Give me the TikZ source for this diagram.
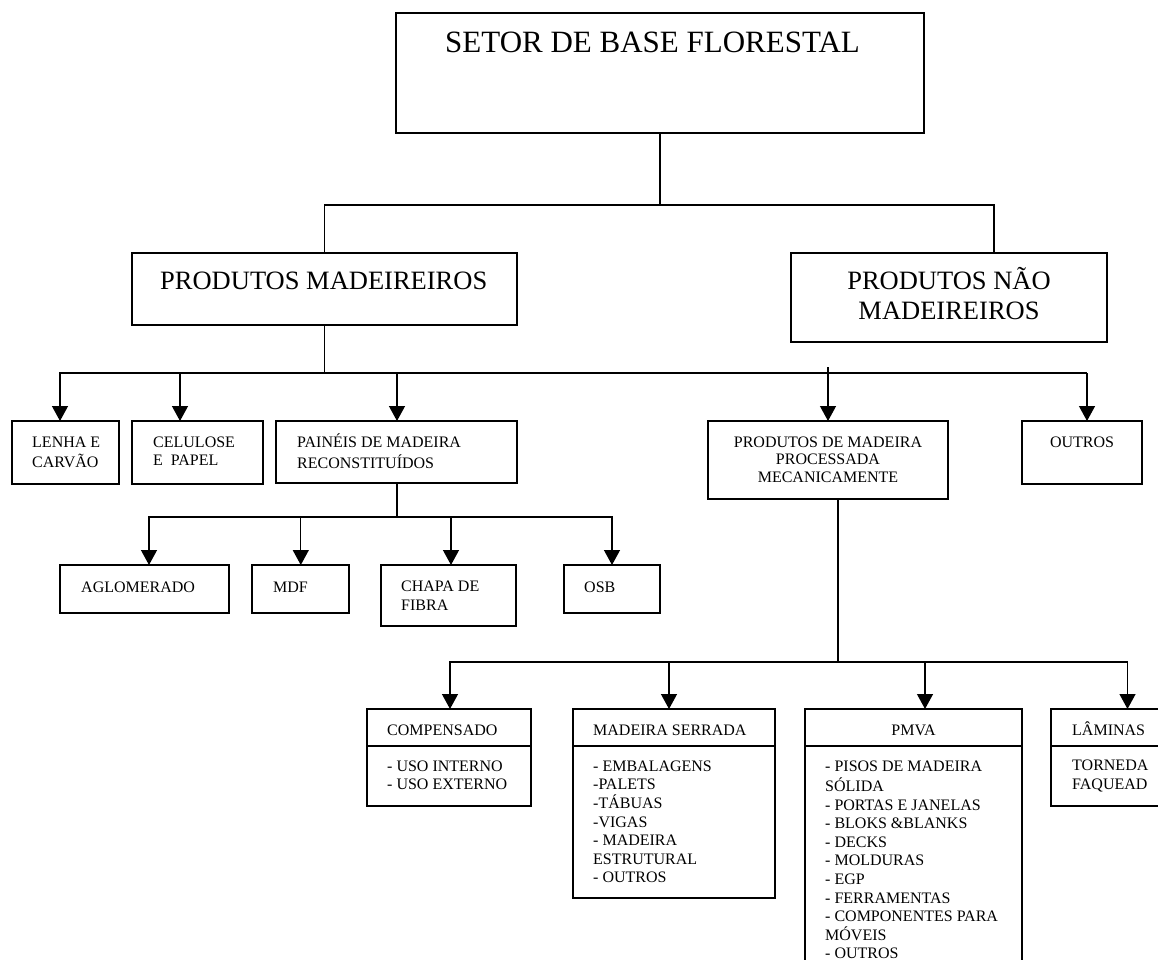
\documentclass[tikz,border=0pt]{standalone}
\usepackage{fontspec}
\setmainfont{Liberation Serif}
\usetikzlibrary{arrows.meta,calc}
\tikzset{
  box/.style={draw, line width=1.3pt, inner sep=0pt, outer sep=0pt, anchor=north west},
  ln/.style={line width=1.3pt},
  arr/.style={line width=1.3pt, -{Triangle[width=16pt,length=15pt]}},
  small/.style={inner sep=0pt, font=\fontsize{16}{18.6}\selectfont},
  txt/.style={small, anchor=north west, align=left},
  mid/.style={inner sep=0pt, font=\fontsize{26.5}{30}\selectfont},
  big/.style={inner sep=0pt, font=\fontsize{31}{36}\selectfont},
}
\begin{document}
\begin{tikzpicture}[x=1pt,y=-1pt]
\useasboundingbox (0,0) rectangle (1158,960);
\clip (0,0) rectangle (1158,960);
% boxes
\node[box, minimum width=528pt, minimum height=120pt] (T) at (396,13) {};
\node[box, minimum width=385pt, minimum height=72pt] (PM) at (132,253) {};
\node[box, minimum width=316pt, minimum height=89pt] (PNM) at (791,253) {};
\node[box, minimum width=107pt, minimum height=63pt] (LEN) at (12,421) {};
\node[box, minimum width=131pt, minimum height=63pt] (CEL) at (132,421) {};
\node[box, minimum width=241pt, minimum height=62pt] (PAI) at (276,421) {};
\node[box, minimum width=240pt, minimum height=78pt] (PMM) at (708,421) {};
\node[box, minimum width=120pt, minimum height=63pt] (OUT) at (1022,421) {};
\node[box, minimum width=169pt, minimum height=48pt] (AGL) at (60,565) {};
\node[box, minimum width=97pt, minimum height=48pt] (MDF) at (252,565) {};
\node[box, minimum width=135pt, minimum height=61pt] (CHA) at (381,565) {};
\node[box, minimum width=96pt, minimum height=48pt] (OSB) at (564,565) {};
\node[box, minimum width=164pt, minimum height=97pt] (COM) at (367,709) {};
\node[box, minimum width=202pt, minimum height=189pt] (MSE) at (573,709) {};
\node[box, minimum width=217pt, minimum height=290pt] (PMV) at (805,709) {};
\node[box, minimum width=130pt, minimum height=97pt] (LAM) at (1051,709) {};
% dividers
\foreach \b in {COM,MSE,PMV,LAM}
  \draw[ln] ($(\b.north west)+(0,37)$) -- ($(\b.north east)+(0,37)$);
% texts
\node[big, anchor=base west] (tT) at (445,53) {SETOR DE BASE FLORESTAL};
\node[mid, anchor=base west] (tPM) at (160,289) {PRODUTOS MADEIREIROS};
\node[mid, anchor=north, align=center] (tPNM) at (949,267) {\strut PRODUTOS NÃO\\MADEIREIROS};
\node[txt] (tLEN) at (32,434) {\strut LENHA E\\CARVÃO};
\node[txt] (tCEL) at (153,434) {\strut CELULOSE\\E\ \ PAPEL};
\node[txt] (tPAI) at (297,434) {\strut PAINÉIS DE MADEIRA\\RECONSTITUÍDOS};
\node[small, anchor=north, align=center, font=\fontsize{16}{17.5}\selectfont] (tPMM) at (828,434.75) {\strut PRODUTOS DE MADEIRA\\PROCESSADA\\MECANICAMENTE};
\node[small, anchor=base] (tOUT) at (1082,447) {OUTROS};
\node[small, anchor=base west] (tAGL) at (81,592) {AGLOMERADO};
\node[small, anchor=base west] (tMDF) at (273,592) {MDF};
\node[txt, font=\fontsize{16}{19}\selectfont] (tCHA) at (401,577.7) {\strut CHAPA DE\\FIBRA};
\node[small, anchor=base west] (tOSB) at (584,592) {OSB};
\node[small, anchor=base west] (hCOM) at (387,735) {COMPENSADO};
\node[txt] (bCOM) at (387,758) {\strut - USO INTERNO\\- USO EXTERNO};
\node[small, anchor=base west] (hMSE) at (593,735) {MADEIRA SERRADA};
\node[txt] (bMSE) at (593,758) {\strut - EMBALAGENS\\-PALETS\\-TÁBUAS\\-VIGAS\\- MADEIRA\\ESTRUTURAL\\- OUTROS};
\node[small, anchor=base] (hPMV) at (913.5,735) {PMVA};
\node[txt] (bPMV) at (825,758) {\strut - PISOS DE MADEIRA\\SÓLIDA\\- PORTAS E JANELAS\\- BLOKS \&BLANKS\\- DECKS\\- MOLDURAS\\- EGP\\- FERRAMENTAS\\- COMPONENTES PARA\\MÓVEIS\\- OUTROS};
\node[small, anchor=base west] (hLAM) at (1072,735) {LÂMINAS};
\node[txt, font=\fontsize{16}{19}\selectfont] (bLAM) at (1072,757) {\strut TORNEDA\\FAQUEAD};
% connectors level 1
\coordinate (b1) at ($(T.south)+(0,72)$);
\draw[ln] (T.south) -- (b1);
\draw[ln] (b1) -| (PM.north);
\draw[ln] (b1) -| ($(PNM.north)+(45,0)$);
% level 2
\coordinate (b2) at ($(PM.south)+(0,48)$);
\draw[ln] (PM.south) -- (b2);
\draw[arr] (b2) -| ($(LEN.north)+(-5.5,0)$);
\draw[arr] (b2) -| ($(CEL.north)+(-17.5,0)$);
\draw[arr] (b2) -| ($(PAI.north)+(0.5,0)$);
\draw[ln] (b2) -| ($(OUT.north)+(5,-48)$);
\draw[arr] ($(PMM.north |- b2)+(0,-6)$) -- (PMM.north);
\draw[arr] ($(OUT.north |- b2)+(5,0)$) -- ($(OUT.north)+(5,0)$);
% level 3 (paineis)
\coordinate (b3) at ($(PAI.south)+(0.5,34)$);
\draw[ln] ($(PAI.south)+(0.5,0)$) -- (b3);
\draw[arr] (b3) -| ($(AGL.north)+(4.5,0)$);
\draw[arr] (b3) -| ($(MDF.north)+(0.3,0)$);
\draw[arr] (b3) -| ($(CHA.north)+(2.5,0)$);
\draw[arr] (b3) -| (OSB.north);
% level 3 (processada)
\coordinate (b4) at ($(PMM.south)+(10,163)$);
\draw[ln] ($(PMM.south)+(10,0)$) -- (b4);
\draw[arr] (b4) -| ($(COM.north)+(1,0)$);
\draw[arr] (b4) -| ($(MSE.north)+(-5,0)$);
\draw[arr] (b4) -| ($(PMV.north)+(11.5,0)$);
\draw[arr] (b4) -| ($(LAM.north)+(11.5,0)$);
\end{tikzpicture}
\end{document}
